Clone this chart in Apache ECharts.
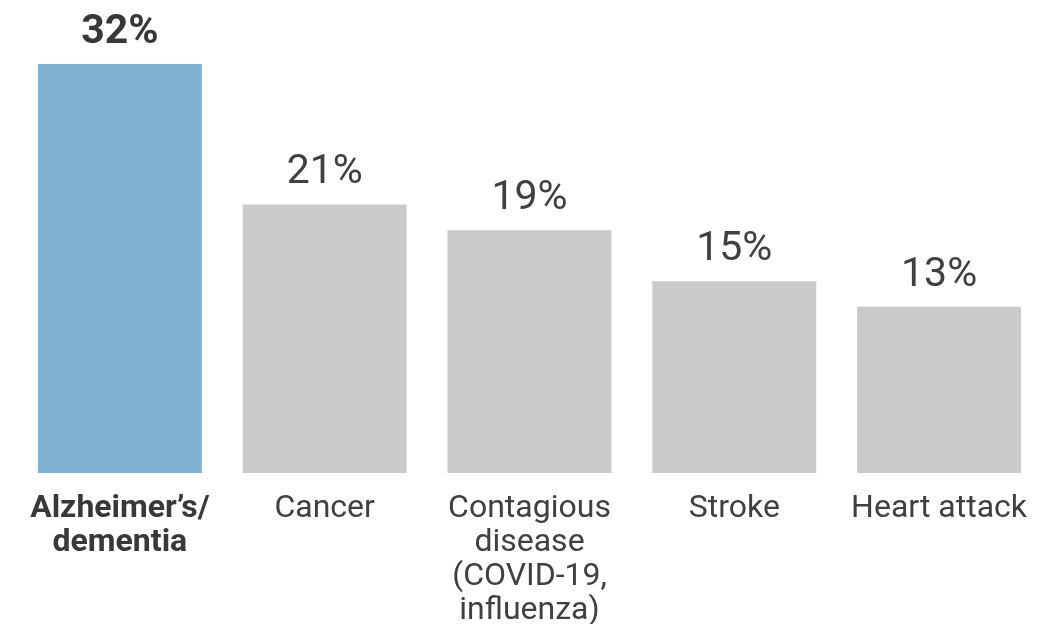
<!DOCTYPE html>
<html>
<head>
<meta charset="utf-8">
<style>
  html, body { margin: 0; padding: 0; background: #ffffff; }
  #chart { width: 1058px; height: 624px; }
</style>
<script src="https://cdn.jsdelivr.net/npm/echarts@6/dist/echarts.min.js"></script>
</head>
<body>
<div id="chart"></div>
<script>
// Share of respondents by condition (percent)
const categories = ['Alzheimer\u2019s/\ndementia', 'Cancer', 'Contagious\ndisease\n(COVID-19,\ninfluenza)', 'Stroke', 'Heart attack'];
const values = [32, 21, 19, 15, 13];
const highlightIndex = 0;

const FONT = 'Roboto';
const TEXT = '#404040';
const BLUE = '#7fb3d1';
const GRAY = '#c9cacc';

const chart = echarts.init(document.getElementById('chart'), null, { renderer: 'canvas' });

const seriesData = values.map((v, i) => {
  const hl = i === highlightIndex;
  return {
    value: v,
    itemStyle: { color: hl ? BLUE : GRAY },
    label: { fontWeight: hl ? 'bold' : 'normal', color: hl ? '#383838' : TEXT }
  };
});

chart.setOption({
  animation: false,
  grid: {
    left: 17.5, right: 16.5, top: 64, bottom: 151,
    containLabel: false,
    outerBoundsMode: 'none'
  },
  xAxis: {
    type: 'category',
    data: categories,
    axisLine: { show: false },
    axisTick: { show: false },
    axisLabel: {
      interval: 0,
      margin: 19,
      color: TEXT,
      fontFamily: FONT,
      fontSize: 32,
      lineHeight: 34,
      align: 'center',
      formatter: (val, idx) => idx === highlightIndex
        ? val.split('\n').map(s => '{b|' + s + '}').join('\n')
        : val,
      rich: {
        b: { fontWeight: 'bold', fontFamily: FONT, fontSize: 32, lineHeight: 34, color: '#383838' }
      }
    }
  },
  yAxis: {
    type: 'value',
    min: 0,
    max: 32,
    show: false,
    splitLine: { show: false }
  },
  series: [{
    type: 'bar',
    data: seriesData,
    barWidth: 164,
    label: {
      show: true,
      position: 'top',
      distance: 11,
      fontFamily: FONT,
      fontSize: 41,
      formatter: p => p.value + '%'
    }
  }]
});
</script>
</body>
</html>
